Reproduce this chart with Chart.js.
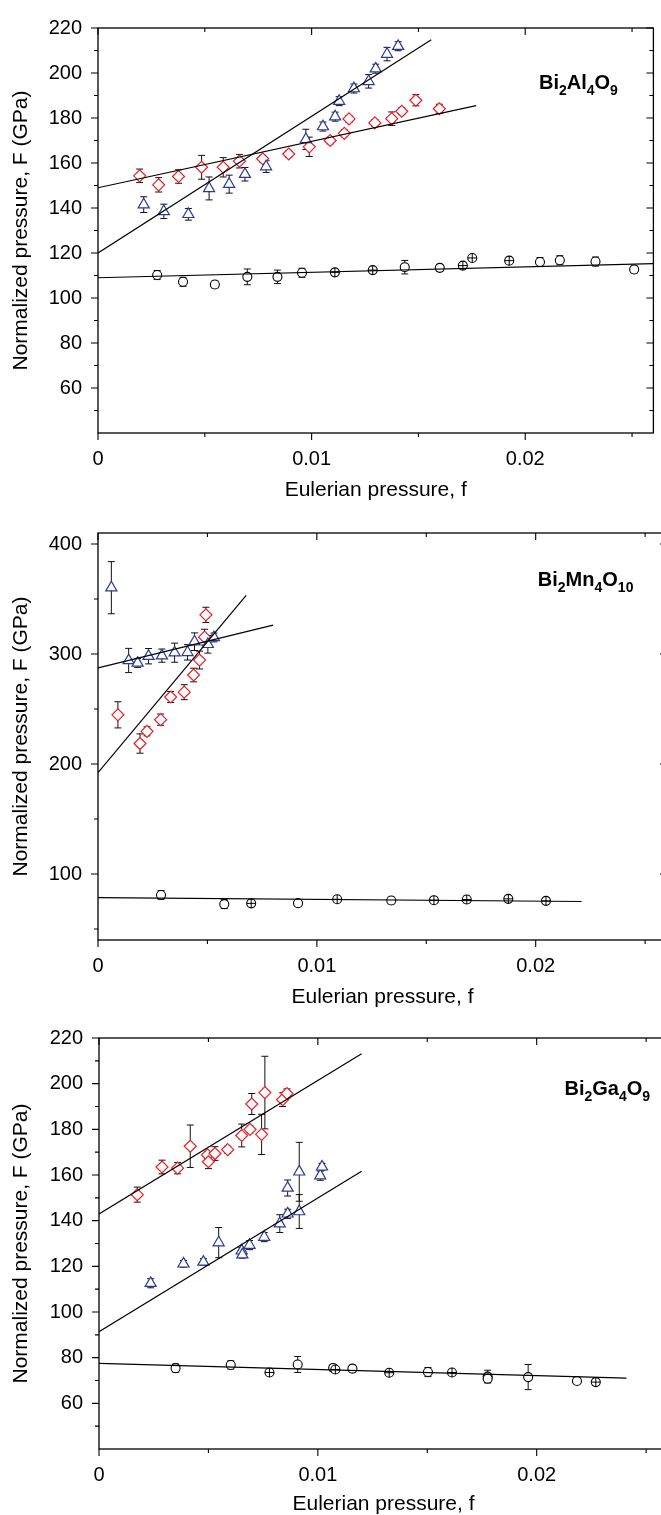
<!DOCTYPE html>
<html><head><meta charset="utf-8">
<script src="https://cdn.jsdelivr.net/npm/chart.js@4.4.1/dist/chart.umd.min.js"></script>
<style>
html,body{margin:0;padding:0;background:#fff;overflow:hidden;width:661px;height:1515px;position:relative;}
.p{position:absolute;left:0;}
canvas{display:block;}
</style></head><body>
<div class="p" style="top:0px"><canvas id="c1" width="661" height="505"></canvas></div>
<div class="p" style="top:505px"><canvas id="c2" width="680" height="505"></canvas></div>
<div class="p" style="top:1010px"><canvas id="c3" width="680" height="510"></canvas></div>
<script>
// ---------- shared ticks ----------
const xMajor = [0, 0.01, 0.02];
const xMinor = [0.005, 0.015, 0.025];
const yMajor20 = [60, 80, 100, 120, 140, 160, 180, 200, 220];
const yMinor20 = [50, 70, 90, 110, 130, 150, 170, 190, 210];
const yMajor100 = [100, 200, 300, 400];
const yMinor100 = [50, 150, 250, 350];

// ---------- Bi2Al4O9 ----------
const alDiaF = [0.00195,0.00284,0.00377,0.00485,0.00586,0.00662,0.00771,0.00893,0.00989,0.01087,0.01153,0.01175,0.01296,0.01375,0.01422,0.01488,0.01598];
const alDiaP = [154.3,150.3,154.0,158.1,158.1,160.8,161.9,164.0,167.2,170.0,173.2,179.6,177.8,179.7,183.0,187.9,184.1];
const alDiaE = [3.0,3.2,3.0,5.3,4.3,3.0,1.5,1.5,4.3,1.5,1.5,1.5,1.5,3.0,1.5,2.5,2.0];
const alTriF = [0.00214,0.00308,0.00423,0.0052,0.00614,0.00688,0.00787,0.00973,0.01053,0.0111,0.01129,0.01198,0.01267,0.013,0.01353,0.01405];
const alTriP = [141.5,138.5,137.2,148.7,150.6,155.0,158.4,170.5,176.2,180.6,187.5,193.1,196.3,201.9,208.4,211.9];
const alTriE = [3.5,3.2,2.6,5.1,4.0,3.0,2.6,4.5,2.0,2.0,2.0,2.0,3.0,2.0,3.0,2.0];
const alCirF = [0.00277,0.00398,0.00547,0.00699,0.0084,0.00955,0.01109,0.01286,0.01436,0.016,0.01708,0.01752,0.01925,0.02069,0.02162,0.02329,0.0251];
const alCirP = [110.2,107.2,106.0,109.4,109.4,111.2,111.4,112.4,113.7,113.4,114.4,117.8,116.6,116.0,116.8,116.2,112.7];
const alCirE = [2.0,2.0,1.5,3.5,3.0,2.0,1.0,1.0,3.0,1.5,1.0,1.0,1.0,2.0,2.0,2.0,1.5];
const alCrossIdx = [6,7,10,11,12];
const alFitDiaF = [0, 0.0177], alFitDiaP = [149.0, 185.5];
const alFitTriF = [0, 0.0156], alFitTriP = [120.0, 214.8];
const alFitCirF = [0, 0.026],  alFitCirP = [109.0, 115.3];
const alName = ['Bi','2','Al','4','O','9'];

// ---------- Bi2Mn4O10 ----------
const mnDiaF = [0.00091,0.00192,0.00224,0.00286,0.00332,0.00394,0.00437,0.00464,0.00487,0.00493];
const mnDiaP = [244.7,218.6,229.7,240.3,260.9,265.3,280.9,294.5,315.3,335.6];
const mnDiaE = [11.9,8.8,4.1,5.1,5.0,6.8,6.2,8.1,7.2,6.9];
const mnTriF = [0.00061,0.0014,0.00181,0.00231,0.00292,0.0035,0.00409,0.00441,0.00502,0.0053];
const mnTriP = [360.3,294.1,291.8,298.0,298.5,301.2,301.5,311.2,308.8,315.0];
const mnTriE = [23.7,11.0,4.0,7.0,6.0,8.7,7.0,8.0,8.0,4.0];
const mnCirF = [0.00288,0.00577,0.007,0.00914,0.01093,0.0134,0.01535,0.01685,0.01875,0.02047];
const mnCirP = [80.9,72.6,73.3,73.5,77.0,75.9,76.2,76.8,77.4,75.6];
const mnCirE = [4,4,2,2.5,2,3,2,3,2.5,2.5];
const mnCrossIdx = [2,4,6,7,8,9];
const mnFitTriF = [0, 0.008],   mnFitTriP = [287.4, 326.2];
const mnFitDiaF = [0, 0.00677], mnFitDiaP = [192.1, 353.2];
const mnFitCirF = [0, 0.0221],  mnFitCirP = [78.5, 75.0];
const mnName = ['Bi','2','Mn','4','O','10'];

// ---------- Bi2Ga4O9 ----------
const gaDiaF = [0.00175,0.00288,0.00359,0.00417,0.00496,0.005,0.0053,0.00588,0.00652,0.0069,0.00698,0.00743,0.00758,0.00839,0.00859];
const gaDiaP = [151.4,163.5,163.0,172.6,168.8,165.8,169.4,171.1,177.3,180.0,191.1,177.8,196.1,193.0,195.7];
const gaDiaE = [3.3,3.0,2.5,9.3,1.5,3.0,3.0,1.5,5.0,1.5,4.6,8.8,15.9,3.0,2.0];
const gaTriF = [0.00236,0.00386,0.00477,0.00547,0.00652,0.00655,0.00688,0.00755,0.00826,0.00862,0.00862,0.00915,0.00915,0.01011,0.01019];
const gaTriP = [112.6,121.1,121.9,130.4,126.8,125.1,129.3,132.8,138.7,143.0,154.3,144.0,161.4,159.7,163.6];
const gaTriE = [2.0,1.5,1.5,6.6,1.5,1.5,2.0,2.0,3.9,2.0,3.5,7.4,12.9,2.0,1.5];
const gaCirF = [0.0035,0.00602,0.00779,0.00908,0.0107,0.0108,0.01158,0.01326,0.01503,0.01613,0.01776,0.01776,0.01961,0.02184,0.0227];
const gaCirP = [75.4,76.8,73.5,77.0,75.5,74.8,75.2,73.4,73.7,73.5,71.7,70.8,71.5,69.8,69.3];
const gaCirE = [1.8,1.8,1.2,3.5,1.5,1.0,1.5,1.0,2.0,1.0,2.8,1.5,5.5,1.2,1.0];
const gaCrossIdx = [2,5,7,9,14];
const gaFitDiaF = [0, 0.012],  gaFitDiaP = [142.9, 213.1];
const gaFitTriF = [0, 0.012],  gaFitTriP = [91.4, 161.6];
const gaFitCirF = [0, 0.0241], gaFitCirP = [77.5, 71.0];
const gaName = ['Bi','2','Ga','4','O','9'];

// ---------- styling ----------
const FONT = '"Liberation Sans", Arial, Helvetica, sans-serif';
const RED = '#ee1c25', BLUE = '#2b3a98', BLACK = '#000';

function pts(xs, ys) { return xs.map((x, i) => ({x: x, y: ys[i]})); }
function pick(xs, ys, idx) { return idx.map(i => ({x: xs[i], y: ys[i]})); }

const decorPlugin = {
  id: 'decor',
  beforeDatasetsDraw(chart) {
    const ctx = chart.ctx, xs = chart.scales.x, ys = chart.scales.y;
    ctx.save();
    ctx.strokeStyle = '#111';
    ctx.lineWidth = 1;
    chart.data.datasets.forEach(ds => {
      if (!ds.errors) return;
      ds.data.forEach((p, j) => {
        const e = ds.errors[j];
        const x = xs.getPixelForValue(p.x);
        const y1 = ys.getPixelForValue(p.y + e), y2 = ys.getPixelForValue(p.y - e);
        ctx.beginPath();
        ctx.moveTo(x, y1); ctx.lineTo(x, y2);
        ctx.moveTo(x - 3.5, y1); ctx.lineTo(x + 3.5, y1);
        ctx.moveTo(x - 3.5, y2); ctx.lineTo(x + 3.5, y2);
        ctx.stroke();
      });
    });
    ctx.restore();
  },
  afterDraw(chart, args, o) {
    const ctx = chart.ctx, a = chart.chartArea, xs = chart.scales.x, ys = chart.scales.y;
    ctx.save();
    ctx.strokeStyle = BLACK;
    ctx.lineWidth = 1.3;
    ctx.strokeRect(a.left, a.top, a.right - a.left, a.bottom - a.top);
    ctx.lineWidth = 1.1;
    ctx.beginPath();
    const LM = 7, LS = 4;
    o.xMajor.concat(o.xMinor).forEach(v => {
      const len = o.xMajor.includes(v) ? LM : LS;
      const x = xs.getPixelForValue(v);
      ctx.moveTo(x, a.bottom); ctx.lineTo(x, a.bottom + len);
      ctx.moveTo(x, a.top); ctx.lineTo(x, a.top + len);
    });
    o.yMajor.concat(o.yMinor).forEach(v => {
      const len = o.yMajor.includes(v) ? LM : LS;
      const y = ys.getPixelForValue(v);
      ctx.moveTo(a.left, y); ctx.lineTo(a.left - len, y);
      ctx.moveTo(a.right, y); ctx.lineTo(a.right - len, y);
    });
    ctx.stroke();
    // compound name with subscripts
    let x = a.left + o.fx * (a.right - a.left);
    const y = a.top + o.fy * (a.bottom - a.top);
    ctx.fillStyle = BLACK;
    ctx.textAlign = 'left';
    ctx.textBaseline = 'alphabetic';
    o.name.forEach((t, i) => {
      const sub = i % 2 === 1;
      ctx.font = sub ? 'bold 14px ' + FONT : 'bold 20px ' + FONT;
      ctx.fillText(t, x, sub ? y + 6 : y);
      x += ctx.measureText(t).width;
    });
    ctx.restore();
  }
};

function makeChart(id, cfg) {
  const canvas = document.getElementById(id);
  const W = canvas.width, H = canvas.height;
  const lineDs = (xs, ys) => ({
    data: pts(xs, ys), showLine: true, pointRadius: 0, borderColor: BLACK,
    borderWidth: 1.2, fill: false, tension: 0
  });
  const datasets = [
    lineDs(cfg.fits[0][0], cfg.fits[0][1]),
    lineDs(cfg.fits[1][0], cfg.fits[1][1]),
    lineDs(cfg.fits[2][0], cfg.fits[2][1]),
    { data: pick(cfg.cir[0], cfg.cir[1], cfg.cross), pointStyle: 'cross', pointRadius: 4.5,
      borderColor: BLACK, borderWidth: 1, backgroundColor: BLACK },
    { data: pts(cfg.cir[0], cfg.cir[1]), errors: cfg.cir[2], pointStyle: 'circle', pointRadius: 4.5,
      borderColor: BLACK, backgroundColor: '#fff', borderWidth: 1.1 },
    { data: pts(cfg.tri[0], cfg.tri[1]), errors: cfg.tri[2], pointStyle: 'triangle', pointRadius: 6.4,
      borderColor: BLUE, backgroundColor: '#fff', borderWidth: 1.2 },
    { data: pts(cfg.dia[0], cfg.dia[1]), errors: cfg.dia[2], pointStyle: 'rectRot', pointRadius: 6,
      borderColor: RED, backgroundColor: '#fff', borderWidth: 1.2 }
  ];
  return new Chart(canvas, {
    type: 'scatter',
    data: { datasets: datasets },
    options: {
      responsive: false, animation: false, devicePixelRatio: 1,
      layout: { padding: { left: 0, top: cfg.area.top, right: W - cfg.area.right, bottom: 0 } },
      plugins: {
        legend: { display: false }, tooltip: { enabled: false },
        decor: { xMajor: xMajor, xMinor: xMinor, yMajor: cfg.yMajor, yMinor: cfg.yMinor,
                 name: cfg.name, fx: cfg.fx, fy: cfg.fy }
      },
      scales: {
        x: {
          type: 'linear', position: 'bottom', min: 0, max: 0.026,
          afterBuildTicks: s => { s.ticks = xMajor.map(v => ({value: v})); },
          afterFit: s => { s.height = H - cfg.area.bottom; },
          grid: { display: false, drawTicks: false },
          border: { display: false },
          ticks: { autoSkip: false, maxRotation: 0, padding: 14, color: BLACK,
                   font: { family: FONT, size: 20 }, callback: v => String(v) },
          title: { display: true, text: 'Eulerian pressure, f', color: BLACK,
                   font: { family: FONT, size: 21 }, padding: { top: 0, bottom: cfg.xTitlePad } }
        },
        y: {
          type: 'linear', position: 'left', min: cfg.ymin, max: cfg.ymax,
          afterBuildTicks: s => { s.ticks = cfg.yMajor.map(v => ({value: v})); },
          afterFit: s => { s.width = cfg.area.left; },
          grid: { display: false, drawTicks: false },
          border: { display: false },
          ticks: { autoSkip: false, padding: 16, color: BLACK,
                   font: { family: FONT, size: 20 }, callback: v => String(v) },
          title: { display: true, text: 'Normalized pressure, F (GPa)', color: BLACK,
                   font: { family: FONT, size: 21 }, padding: { top: 9, bottom: 0 } }
        }
      }
    },
    plugins: [decorPlugin]
  });
}

makeChart('c1', {
  area: { left: 98, top: 25, right: 657, bottom: 433 }, ymin: 40, ymax: 220,
  yMajor: yMajor20, yMinor: yMinor20, xTitlePad: 2.4,
  dia: [alDiaF, alDiaP, alDiaE], tri: [alTriF, alTriP, alTriE], cir: [alCirF, alCirP, alCirE],
  cross: alCrossIdx,
  fits: [[alFitDiaF, alFitDiaP], [alFitTriF, alFitTriP], [alFitCirF, alFitCirP]],
  name: alName, fx: 0.794, fy: 0.1495
});
makeChart('c2', {
  area: { left: 98, top: 15, right: 667, bottom: 435 }, ymin: 40, ymax: 410,
  yMajor: yMajor100, yMinor: yMinor100, xTitlePad: 0,
  dia: [mnDiaF, mnDiaP, mnDiaE], tri: [mnTriF, mnTriP, mnTriE], cir: [mnCirF, mnCirP, mnCirE],
  cross: mnCrossIdx,
  fits: [[mnFitTriF, mnFitTriP], [mnFitDiaF, mnFitDiaP], [mnFitCirF, mnFitCirP]],
  name: mnName, fx: 0.773, fy: 0.131
});
makeChart('c3', {
  area: { left: 99, top: 19, right: 668, bottom: 439 }, ymin: 40, ymax: 220,
  yMajor: yMajor20, yMinor: yMinor20, xTitlePad: 2.7,
  dia: [gaDiaF, gaDiaP, gaDiaE], tri: [gaTriF, gaTriP, gaTriE], cir: [gaCirF, gaCirP, gaCirE],
  cross: gaCrossIdx,
  fits: [[gaFitDiaF, gaFitDiaP], [gaFitTriF, gaFitTriP], [gaFitCirF, gaFitCirP]],
  name: gaName, fx: 0.818, fy: 0.138
});
</script>
</body></html>
